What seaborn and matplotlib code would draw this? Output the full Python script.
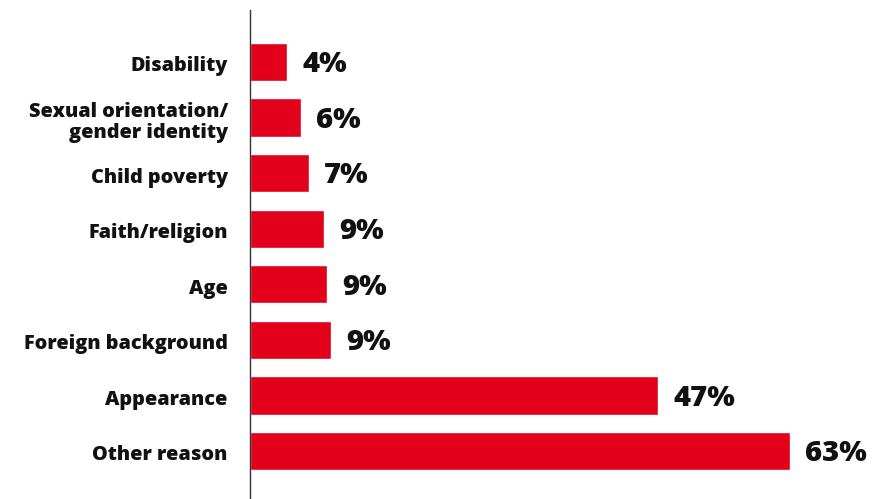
import matplotlib
matplotlib.use("Agg")
import matplotlib.pyplot as plt
import matplotlib.transforms as mtransforms
import seaborn as sns
import pandas as pd

# Reasons and shares (%) shown as horizontal bars
reasons = [
    "Disability",
    "Sexual orientation/\ngender identity",
    "Child poverty",
    "Faith/religion",
    "Age",
    "Foreign background",
    "Appearance",
    "Other reason",
]
shares = [4.3, 5.9, 6.85, 8.6, 8.95, 9.4, 47.4, 62.7]

df = pd.DataFrame({"reason": reasons, "share": shares})

sns.set_theme(style="white")
plt.rcParams["font.family"] = ["Open Sans", "DejaVu Sans"]

fig = plt.figure(figsize=(8.79, 4.99), dpi=100)
ax = fig.add_axes([0.2844, 0.0, 0.7156, 0.98])

sns.barplot(data=df, x="share", y="reason", orient="h", color="#E2001A",
            saturation=1, width=0.69, ax=ax)

ax.set_xlim(0, 73.06)
ax.set_ylim(7.864, -0.936)
ax.set_xlabel("")
ax.set_ylabel("")
ax.set_xticks([])

for side in ("top", "right", "bottom"):
    ax.spines[side].set_visible(False)
ax.spines["left"].set_color("#333333")
ax.spines["left"].set_linewidth(1.0)

ax.tick_params(axis="y", length=0, pad=16)
shift_down = mtransforms.ScaledTranslation(0, -2 / 100, fig.dpi_scale_trans)
for lbl in ax.get_yticklabels():
    lbl.set_fontsize(14.3)
    lbl.set_fontweight(800)
    lbl.set_color("#111111")
    lbl.set_horizontalalignment("right")
    lbl.set_multialignment("right")
    lbl.set_linespacing(1.05)
    lbl.set_transform(lbl.get_transform() + shift_down)

anns = ax.bar_label(ax.containers[0], labels=[f"{round(v)}%" for v in shares],
                    padding=11, fontsize=21, fontweight=800, color="#111111")
for a in anns:
    a.xyann = (11, -2)

fig.savefig("out.png", dpi=100)
